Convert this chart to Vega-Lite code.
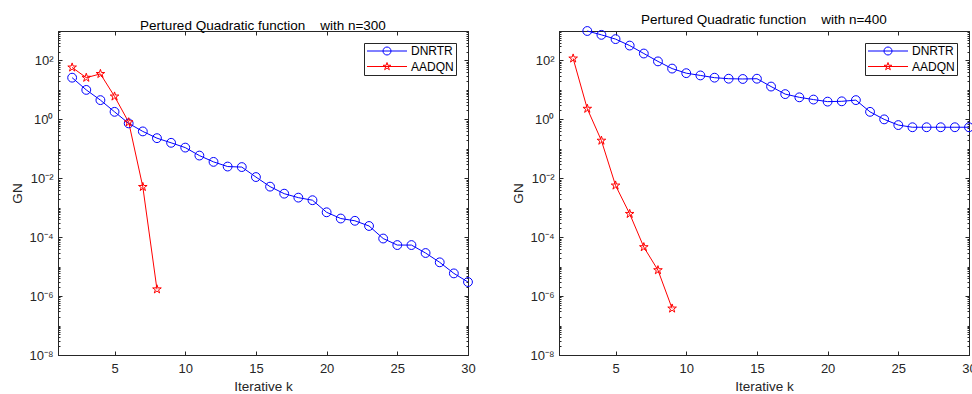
{
  "$schema": "https://vega.github.io/schema/vega-lite/v6.json",
  "autosize": {"type": "pad"},
  "padding": {"left": 10, "top": 12, "right": 0, "bottom": 0},
  "spacing": 91,
  "bounds": "flush",
  "config": {
    "font": "Liberation Sans",
    "view": {"stroke": "#262626", "strokeWidth": 1},
    "axis": {
      "domainColor": "#262626", "tickColor": "#262626", "labelColor": "#262626", "titleColor": "#262626",
      "labelFont": "Liberation Sans", "titleFont": "Liberation Sans", "labelFontSize": 13, "titleFontSize": 13.5,
      "titleFontWeight": "normal", "grid": false, "labelFlush": false, "tickWidth": 1, "domainWidth": 1
    },
    "legend": {"title": null, "orient": "top-right", "offset": 12, "fillColor": "white", "strokeColor": "#262626", "padding": 2, "cornerRadius": 0,
      "labelFont": "Liberation Sans", "labelFontSize": 12, "labelColor": "#000000", "symbolSize": 64, "symbolStrokeWidth": 1,
      "symbolOffset": 15, "labelOffset": 18, "rowPadding": 3.5, "symbolOpacity": 1, "symbolFillColor": "transparent"},
    "title": {"font": "Liberation Sans", "fontSize": 13.5, "fontWeight": "normal", "color": "#000000", "baseline": "alphabetic", "offset": -2}
  },
  "data": {"values": [
    {"p": "n300", "m": "DNRTR", "k": 2, "v": 26},
    {"p": "n300", "m": "DNRTR", "k": 3, "v": 10},
    {"p": "n300", "m": "DNRTR", "k": 4, "v": 4.5},
    {"p": "n300", "m": "DNRTR", "k": 5, "v": 1.8},
    {"p": "n300", "m": "DNRTR", "k": 6, "v": 0.73},
    {"p": "n300", "m": "DNRTR", "k": 7, "v": 0.39},
    {"p": "n300", "m": "DNRTR", "k": 8, "v": 0.23},
    {"p": "n300", "m": "DNRTR", "k": 9, "v": 0.16},
    {"p": "n300", "m": "DNRTR", "k": 10, "v": 0.11},
    {"p": "n300", "m": "DNRTR", "k": 11, "v": 0.059},
    {"p": "n300", "m": "DNRTR", "k": 12, "v": 0.036},
    {"p": "n300", "m": "DNRTR", "k": 13, "v": 0.025},
    {"p": "n300", "m": "DNRTR", "k": 14, "v": 0.024},
    {"p": "n300", "m": "DNRTR", "k": 15, "v": 0.011},
    {"p": "n300", "m": "DNRTR", "k": 16, "v": 0.0052},
    {"p": "n300", "m": "DNRTR", "k": 17, "v": 0.003},
    {"p": "n300", "m": "DNRTR", "k": 18, "v": 0.0022},
    {"p": "n300", "m": "DNRTR", "k": 19, "v": 0.0018},
    {"p": "n300", "m": "DNRTR", "k": 20, "v": 0.0007},
    {"p": "n300", "m": "DNRTR", "k": 21, "v": 0.00043},
    {"p": "n300", "m": "DNRTR", "k": 22, "v": 0.00036},
    {"p": "n300", "m": "DNRTR", "k": 23, "v": 0.00024},
    {"p": "n300", "m": "DNRTR", "k": 24, "v": 0.00009},
    {"p": "n300", "m": "DNRTR", "k": 25, "v": 0.000054},
    {"p": "n300", "m": "DNRTR", "k": 26, "v": 0.000054},
    {"p": "n300", "m": "DNRTR", "k": 27, "v": 0.000029},
    {"p": "n300", "m": "DNRTR", "k": 28, "v": 0.000014},
    {"p": "n300", "m": "DNRTR", "k": 29, "v": 0.0000059},
    {"p": "n300", "m": "DNRTR", "k": 30, "v": 0.000003},
    {"p": "n300", "m": "AADQN", "k": 2, "v": 58},
    {"p": "n300", "m": "AADQN", "k": 3, "v": 26},
    {"p": "n300", "m": "AADQN", "k": 4, "v": 35},
    {"p": "n300", "m": "AADQN", "k": 5, "v": 6},
    {"p": "n300", "m": "AADQN", "k": 6, "v": 0.8},
    {"p": "n300", "m": "AADQN", "k": 7, "v": 0.0051},
    {"p": "n300", "m": "AADQN", "k": 8, "v": 0.0000017},
    {"p": "n400", "m": "DNRTR", "k": 3, "v": 1000},
    {"p": "n400", "m": "DNRTR", "k": 4, "v": 740},
    {"p": "n400", "m": "DNRTR", "k": 5, "v": 530},
    {"p": "n400", "m": "DNRTR", "k": 6, "v": 320},
    {"p": "n400", "m": "DNRTR", "k": 7, "v": 172},
    {"p": "n400", "m": "DNRTR", "k": 8, "v": 93},
    {"p": "n400", "m": "DNRTR", "k": 9, "v": 53},
    {"p": "n400", "m": "DNRTR", "k": 10, "v": 37},
    {"p": "n400", "m": "DNRTR", "k": 11, "v": 31},
    {"p": "n400", "m": "DNRTR", "k": 12, "v": 26},
    {"p": "n400", "m": "DNRTR", "k": 13, "v": 24},
    {"p": "n400", "m": "DNRTR", "k": 14, "v": 23.5},
    {"p": "n400", "m": "DNRTR", "k": 15, "v": 24},
    {"p": "n400", "m": "DNRTR", "k": 16, "v": 13},
    {"p": "n400", "m": "DNRTR", "k": 17, "v": 7.2},
    {"p": "n400", "m": "DNRTR", "k": 18, "v": 5.6},
    {"p": "n400", "m": "DNRTR", "k": 19, "v": 4.7},
    {"p": "n400", "m": "DNRTR", "k": 20, "v": 4.0},
    {"p": "n400", "m": "DNRTR", "k": 21, "v": 4.1},
    {"p": "n400", "m": "DNRTR", "k": 22, "v": 4.5},
    {"p": "n400", "m": "DNRTR", "k": 23, "v": 1.8},
    {"p": "n400", "m": "DNRTR", "k": 24, "v": 1.0},
    {"p": "n400", "m": "DNRTR", "k": 25, "v": 0.64},
    {"p": "n400", "m": "DNRTR", "k": 26, "v": 0.54},
    {"p": "n400", "m": "DNRTR", "k": 27, "v": 0.54},
    {"p": "n400", "m": "DNRTR", "k": 28, "v": 0.54},
    {"p": "n400", "m": "DNRTR", "k": 29, "v": 0.54},
    {"p": "n400", "m": "DNRTR", "k": 30, "v": 0.54},
    {"p": "n400", "m": "AADQN", "k": 2, "v": 117},
    {"p": "n400", "m": "AADQN", "k": 3, "v": 2.3},
    {"p": "n400", "m": "AADQN", "k": 4, "v": 0.19},
    {"p": "n400", "m": "AADQN", "k": 5, "v": 0.0057},
    {"p": "n400", "m": "AADQN", "k": 6, "v": 0.00062},
    {"p": "n400", "m": "AADQN", "k": 7, "v": 0.000046},
    {"p": "n400", "m": "AADQN", "k": 8, "v": 0.0000076},
    {"p": "n400", "m": "AADQN", "k": 9, "v": 0.00000038}
  ]},
  "hconcat": [
    {
      "width": 410, "height": 324,
      "title": {"text": "Pertured Quadratic function\u00a0\u00a0\u00a0\u00a0with n=300"},
      "transform": [{"filter": "datum.p == 'n300'"}],
      "encoding": {
        "x": {"field": "k", "type": "quantitative", "scale": {"domain": [1, 30]},
              "axis": {"title": "Iterative k", "values": [5, 10, 15, 20, 25, 30], "tickSize": -4, "labelPadding": 11, "titlePadding": 4}},
        "y": {"field": "v", "type": "quantitative", "scale": {"type": "log", "domain": [1e-8, 1000]},
              "axis": {"title": "GN", "titlePadding": 4, "labelPadding": 9,
                "values": [1e-8,2e-8,3e-8,4e-8,5e-8,6e-8,7e-8,8e-8,9e-8,1e-7,2e-7,3e-7,4e-7,5e-7,6e-7,7e-7,8e-7,9e-7,1e-6,2e-6,3e-6,4e-6,5e-6,6e-6,7e-6,8e-6,9e-6,1e-5,2e-5,3e-5,4e-5,5e-5,6e-5,7e-5,8e-5,9e-5,1e-4,2e-4,3e-4,4e-4,5e-4,6e-4,7e-4,8e-4,9e-4,0.001,0.002,0.003,0.004,0.005,0.006,0.007,0.008,0.009,0.01,0.02,0.03,0.04,0.05,0.06,0.07,0.08,0.09,0.1,0.2,0.3,0.4,0.5,0.6,0.7,0.8,0.9,1,2,3,4,5,6,7,8,9,10,20,30,40,50,60,70,80,90,100,200,300,400,500,600,700,800,900,1000],
                "labelExpr": "datum.value == 100 ? '10²' : datum.value == 1 ? '10⁰' : datum.value == 0.01 ? '10⁻²' : datum.value == 0.0001 ? '10⁻⁴' : datum.value == 0.000001 ? '10⁻⁶' : datum.value == 1e-8 ? '10⁻⁸' : ''",
                "tickSize": {"condition": {"test": "datum.value == 100 || datum.value == 1 || datum.value == 0.01 || datum.value == 0.0001 || datum.value == 0.000001 || datum.value == 1e-8", "value": -4}, "value": -2}}},
        "color": {"field": "m", "type": "nominal", "scale": {"domain": ["DNRTR", "AADQN"], "range": ["#0000ff", "#ff0000"]}}
      },
      "layer": [
        {"mark": {"type": "line", "strokeWidth": 1}},
        {"transform": [{"filter": "datum.m == 'DNRTR'"}],
         "mark": {"type": "point", "shape": "circle", "filled": false, "strokeWidth": 1, "size": 78, "opacity": 1},
         "encoding": {
           "x": {"field": "k", "type": "quantitative", "scale": {"domain": [1, 30]}, "axis": null},
           "y": {"field": "v", "type": "quantitative", "scale": {"type": "log", "domain": [1e-8, 1000]}, "axis": null}
         }},
        {"transform": [{"filter": "datum.m == 'AADQN'"}],
         "mark": {"type": "point", "shape": "M0,-1L0.223,-0.307L0.951,-0.309L0.361,0.117L0.588,0.809L0,0.38L-0.588,0.809L-0.361,0.117L-0.951,-0.309L-0.223,-0.307Z", "filled": false, "strokeWidth": 1, "size": 82, "opacity": 1},
         "encoding": {
           "x": {"field": "k", "type": "quantitative", "scale": {"domain": [1, 30]}, "axis": {"orient": "top", "title": null, "labels": false, "values": [5, 10, 15, 20, 25, 30], "tickSize": -4}},
           "y": {"field": "v", "type": "quantitative", "scale": {"type": "log", "domain": [1e-8, 1000]},
                 "axis": {"orient": "right", "title": null, "labels": false,
                   "values": [1e-8,2e-8,3e-8,4e-8,5e-8,6e-8,7e-8,8e-8,9e-8,1e-7,2e-7,3e-7,4e-7,5e-7,6e-7,7e-7,8e-7,9e-7,1e-6,2e-6,3e-6,4e-6,5e-6,6e-6,7e-6,8e-6,9e-6,1e-5,2e-5,3e-5,4e-5,5e-5,6e-5,7e-5,8e-5,9e-5,1e-4,2e-4,3e-4,4e-4,5e-4,6e-4,7e-4,8e-4,9e-4,0.001,0.002,0.003,0.004,0.005,0.006,0.007,0.008,0.009,0.01,0.02,0.03,0.04,0.05,0.06,0.07,0.08,0.09,0.1,0.2,0.3,0.4,0.5,0.6,0.7,0.8,0.9,1,2,3,4,5,6,7,8,9,10,20,30,40,50,60,70,80,90,100,200,300,400,500,600,700,800,900,1000],
                   "tickSize": {"condition": {"test": "datum.value == 100 || datum.value == 1 || datum.value == 0.01 || datum.value == 0.0001 || datum.value == 0.000001 || datum.value == 1e-8", "value": -4}, "value": -2}}}
         }},
        {"mark": {"type": "point", "filled": false, "opacity": 0},
         "encoding": {
           "x": {"field": "k", "type": "quantitative", "scale": {"domain": [1, 30]}, "axis": null},
           "y": {"field": "v", "type": "quantitative", "scale": {"type": "log", "domain": [1e-8, 1000]}, "axis": null},
           "shape": {"field": "m", "type": "nominal", "scale": {"domain": ["DNRTR", "AADQN"], "range": ["M-5,0L5,0M1,0A1,1,0,1,1,-1,0A1,1,0,1,1,1,0", "M-5,0L5,0M0,-1L0.223,-0.307L0.951,-0.309L0.361,0.117L0.588,0.809L0,0.38L-0.588,0.809L-0.361,0.117L-0.951,-0.309L-0.223,-0.307Z"]}}
         }}
      ],
      "resolve": {"axis": {"x": "independent", "y": "independent"}}
    },
    {
      "width": 410, "height": 324,
      "title": {"text": "Pertured Quadratic function\u00a0\u00a0\u00a0\u00a0with n=400"},
      "transform": [{"filter": "datum.p == 'n400'"}],
      "encoding": {
        "x": {"field": "k", "type": "quantitative", "scale": {"domain": [1, 30]},
              "axis": {"title": "Iterative k", "values": [5, 10, 15, 20, 25, 30], "tickSize": -4, "labelPadding": 11, "titlePadding": 4}},
        "y": {"field": "v", "type": "quantitative", "scale": {"type": "log", "domain": [1e-8, 1000]},
              "axis": {"title": "GN", "titlePadding": 4, "labelPadding": 9,
                "values": [1e-8,2e-8,3e-8,4e-8,5e-8,6e-8,7e-8,8e-8,9e-8,1e-7,2e-7,3e-7,4e-7,5e-7,6e-7,7e-7,8e-7,9e-7,1e-6,2e-6,3e-6,4e-6,5e-6,6e-6,7e-6,8e-6,9e-6,1e-5,2e-5,3e-5,4e-5,5e-5,6e-5,7e-5,8e-5,9e-5,1e-4,2e-4,3e-4,4e-4,5e-4,6e-4,7e-4,8e-4,9e-4,0.001,0.002,0.003,0.004,0.005,0.006,0.007,0.008,0.009,0.01,0.02,0.03,0.04,0.05,0.06,0.07,0.08,0.09,0.1,0.2,0.3,0.4,0.5,0.6,0.7,0.8,0.9,1,2,3,4,5,6,7,8,9,10,20,30,40,50,60,70,80,90,100,200,300,400,500,600,700,800,900,1000],
                "labelExpr": "datum.value == 100 ? '10²' : datum.value == 1 ? '10⁰' : datum.value == 0.01 ? '10⁻²' : datum.value == 0.0001 ? '10⁻⁴' : datum.value == 0.000001 ? '10⁻⁶' : datum.value == 1e-8 ? '10⁻⁸' : ''",
                "tickSize": {"condition": {"test": "datum.value == 100 || datum.value == 1 || datum.value == 0.01 || datum.value == 0.0001 || datum.value == 0.000001 || datum.value == 1e-8", "value": -4}, "value": -2}}},
        "color": {"field": "m", "type": "nominal", "scale": {"domain": ["DNRTR", "AADQN"], "range": ["#0000ff", "#ff0000"]}}
      },
      "layer": [
        {"mark": {"type": "line", "strokeWidth": 1}},
        {"transform": [{"filter": "datum.m == 'DNRTR'"}],
         "mark": {"type": "point", "shape": "circle", "filled": false, "strokeWidth": 1, "size": 78, "opacity": 1},
         "encoding": {
           "x": {"field": "k", "type": "quantitative", "scale": {"domain": [1, 30]}, "axis": null},
           "y": {"field": "v", "type": "quantitative", "scale": {"type": "log", "domain": [1e-8, 1000]}, "axis": null}
         }},
        {"transform": [{"filter": "datum.m == 'AADQN'"}],
         "mark": {"type": "point", "shape": "M0,-1L0.223,-0.307L0.951,-0.309L0.361,0.117L0.588,0.809L0,0.38L-0.588,0.809L-0.361,0.117L-0.951,-0.309L-0.223,-0.307Z", "filled": false, "strokeWidth": 1, "size": 82, "opacity": 1},
         "encoding": {
           "x": {"field": "k", "type": "quantitative", "scale": {"domain": [1, 30]}, "axis": {"orient": "top", "title": null, "labels": false, "values": [5, 10, 15, 20, 25, 30], "tickSize": -4}},
           "y": {"field": "v", "type": "quantitative", "scale": {"type": "log", "domain": [1e-8, 1000]},
                 "axis": {"orient": "right", "title": null, "labels": false,
                   "values": [1e-8,2e-8,3e-8,4e-8,5e-8,6e-8,7e-8,8e-8,9e-8,1e-7,2e-7,3e-7,4e-7,5e-7,6e-7,7e-7,8e-7,9e-7,1e-6,2e-6,3e-6,4e-6,5e-6,6e-6,7e-6,8e-6,9e-6,1e-5,2e-5,3e-5,4e-5,5e-5,6e-5,7e-5,8e-5,9e-5,1e-4,2e-4,3e-4,4e-4,5e-4,6e-4,7e-4,8e-4,9e-4,0.001,0.002,0.003,0.004,0.005,0.006,0.007,0.008,0.009,0.01,0.02,0.03,0.04,0.05,0.06,0.07,0.08,0.09,0.1,0.2,0.3,0.4,0.5,0.6,0.7,0.8,0.9,1,2,3,4,5,6,7,8,9,10,20,30,40,50,60,70,80,90,100,200,300,400,500,600,700,800,900,1000],
                   "tickSize": {"condition": {"test": "datum.value == 100 || datum.value == 1 || datum.value == 0.01 || datum.value == 0.0001 || datum.value == 0.000001 || datum.value == 1e-8", "value": -4}, "value": -2}}}
         }},
        {"mark": {"type": "point", "filled": false, "opacity": 0},
         "encoding": {
           "x": {"field": "k", "type": "quantitative", "scale": {"domain": [1, 30]}, "axis": null},
           "y": {"field": "v", "type": "quantitative", "scale": {"type": "log", "domain": [1e-8, 1000]}, "axis": null},
           "shape": {"field": "m", "type": "nominal", "scale": {"domain": ["DNRTR", "AADQN"], "range": ["M-5,0L5,0M1,0A1,1,0,1,1,-1,0A1,1,0,1,1,1,0", "M-5,0L5,0M0,-1L0.223,-0.307L0.951,-0.309L0.361,0.117L0.588,0.809L0,0.38L-0.588,0.809L-0.361,0.117L-0.951,-0.309L-0.223,-0.307Z"]}}
         }}
      ],
      "resolve": {"axis": {"x": "independent", "y": "independent"}}
    }
  ],
  "resolve": {"scale": {"color": "independent", "shape": "independent"}, "legend": {"color": "independent", "shape": "independent"}}
}
